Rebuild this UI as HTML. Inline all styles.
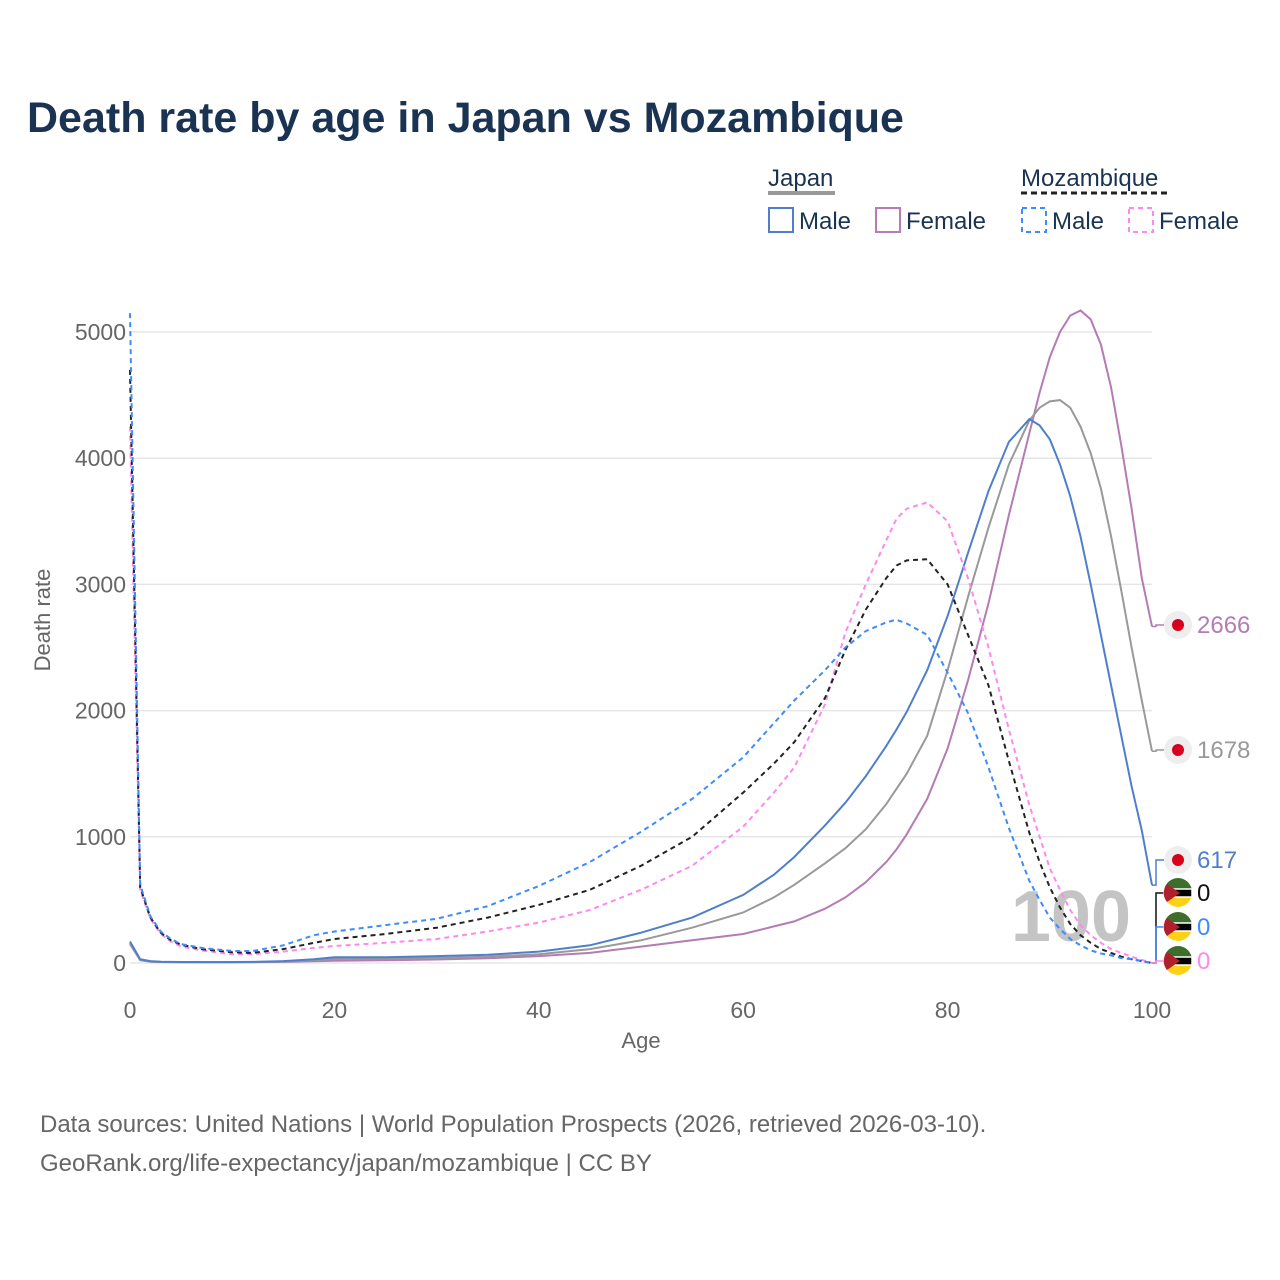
<!DOCTYPE html>
<html><head><meta charset="utf-8">
<style>
body{margin:0;background:#fff;font-family:"Liberation Sans",sans-serif;}
#wrap{position:relative;width:1280px;height:1280px;overflow:hidden;}
</style></head>
<body>
<div id="wrap">
<svg id="chart" width="1280" height="1280" xmlns="http://www.w3.org/2000/svg">
<text x="27" y="132" font-size="43" font-weight="bold" fill="#1b3352">Death rate by age in Japan vs Mozambique</text>
<g font-size="24" fill="#1b3352">
 <text x="768" y="186">Japan</text>
 <line x1="768" y1="193" x2="835" y2="193" stroke="#999" stroke-width="4"/>
 <text x="1021" y="186">Mozambique</text>
 <line x1="1021" y1="193" x2="1170" y2="193" stroke="#222" stroke-width="3" stroke-dasharray="6,4"/>
 <g><rect x="769" y="208" width="24" height="24" fill="none" stroke="#4f7fcc" stroke-width="2"/><text x="799" y="229">Male</text></g>
 <g><rect x="876" y="208" width="24" height="24" fill="none" stroke="#b57bb5" stroke-width="2"/><text x="906" y="229">Female</text></g>
 <g><rect x="1022" y="208" width="24" height="24" fill="none" stroke="#3d8bfd" stroke-width="2" stroke-dasharray="5,4"/><text x="1052" y="229">Male</text></g>
 <g><rect x="1129" y="208" width="24" height="24" fill="none" stroke="#ff88f0" stroke-width="2" stroke-dasharray="5,4"/><text x="1159" y="229">Female</text></g>
</g>
<text transform="translate(50,620) rotate(-90)" text-anchor="middle" font-size="22" fill="#666">Death rate</text>
<text x="641" y="1048" text-anchor="middle" font-size="22" fill="#666">Age</text>
<text x="1131" y="941" text-anchor="end" font-size="72" font-weight="bold" fill="#c4c4c4">100</text>
<g id="grid"></g><g id="xt"></g><g id="yt"></g><g id="lines"></g><g id="labels"></g>
<text x="40" y="1132" font-size="24" fill="#666">Data sources: United Nations | World Population Prospects (2026, retrieved 2026-03-10).</text>
<text x="40" y="1171" font-size="24" fill="#666">GeoRank.org/life-expectancy/japan/mozambique | CC BY</text>
</svg>
</div>
<script>
const ages =        [0,1,2,3,4,5,7,10,12,15,18,20,25,30,35,40,45,50,55,60,63,65,68,70,72,74,75,76,78,80,82,84,86,88,89,90,91,92,93,94,95,96,97,98,99,100];
const japanMale =   [170,30,15,10,9,8,8,8,9,15,30,45,45,55,65,90,140,240,360,540,700,840,1090,1270,1480,1720,1850,1990,2320,2750,3250,3740,4130,4310,4260,4150,3950,3700,3380,3000,2600,2200,1800,1400,1050,617];
const japanTotal =  [160,25,12,9,8,8,7,7,8,12,22,32,35,40,50,70,110,180,280,400,520,620,790,910,1060,1260,1380,1500,1800,2320,2900,3450,3950,4300,4400,4450,4460,4400,4250,4040,3760,3380,2950,2500,2080,1678];
const japanFemale = [150,22,10,8,7,6,6,6,7,9,14,18,22,28,38,55,80,130,180,230,290,330,430,520,640,800,900,1020,1300,1700,2240,2850,3550,4200,4520,4800,5000,5130,5170,5100,4900,4560,4100,3600,3050,2666];
const mozMale =     [5150,620,370,250,190,150,120,95,95,140,220,250,300,350,450,610,800,1040,1300,1630,1900,2080,2320,2500,2630,2700,2720,2690,2600,2300,1980,1550,1070,650,500,360,270,190,140,100,75,60,40,30,15,0];
const mozTotal =    [4700,600,360,240,180,145,110,85,80,110,160,190,230,280,360,460,580,770,1000,1350,1580,1750,2100,2480,2800,3050,3150,3190,3200,3000,2600,2200,1600,1030,800,600,440,310,220,160,110,80,50,30,15,0];
const mozFemale =   [4250,580,350,230,170,130,100,70,70,90,120,135,160,190,250,320,420,580,770,1080,1350,1550,2050,2620,3000,3350,3520,3600,3650,3500,3050,2500,1850,1250,1000,750,580,420,300,220,160,110,80,50,25,0];
const xTicks = [0,20,40,60,80,100];
const yTicks = [0,1000,2000,3000,4000,5000];
const endLabels = ["2666","1678","617","0","0","0"];

const NS="http://www.w3.org/2000/svg";
const X0=130,X1=1152,Y0=963,Y5=332;
const xs=a=>X0+(X1-X0)*a/100;
const ys=v=>Y0-(Y0-Y5)*v/5000;
function mk(tag,attrs,parent){const e=document.createElementNS(NS,tag);for(const k in attrs)e.setAttribute(k,attrs[k]);parent.appendChild(e);return e;}
const grid=document.getElementById('grid'),xt=document.getElementById('xt'),yt=document.getElementById('yt'),lines=document.getElementById('lines'),labels=document.getElementById('labels');
yTicks.forEach(t=>{
 const l=mk('line',{x1:X0,x2:X1,y1:ys(t),y2:ys(t),stroke:'#e6e6e6','stroke-width':1.5},grid);
 
 
 const tx=mk('text',{x:X0-4,y:ys(t)+8,'text-anchor':'end','font-size':23,fill:'#666'},yt);
 tx.textContent=t;
 
 
});
xTicks.forEach(t=>{
 const tx=mk('text',{x:xs(t),y:1018,'text-anchor':'middle','font-size':23,fill:'#666'},xt);
 tx.textContent=t;
 
 
});
const series=[
 {n:'japan-female',d:japanFemale,c:'#b57bb5',dash:''},
 {n:'japan-total',d:japanTotal,c:'#999999',dash:''},
 {n:'japan-male',d:japanMale,c:'#4f7fcc',dash:''},
 {n:'mozambique-female',d:mozFemale,c:'#ff88f0',dash:'5,4'},
 {n:'mozambique-total',d:mozTotal,c:'#222222',dash:'5,4'},
 {n:'mozambique-male',d:mozMale,c:'#3d8bfd',dash:'5,4'}
];
series.forEach(s=>{
 const pts=ages.map((a,i)=>xs(a).toFixed(1)+','+ys(s.d[i]).toFixed(1)).join(' ');
 const p=mk('polyline',{points:pts,fill:'none',stroke:s.c,'stroke-width':2,'stroke-dasharray':s.dash},lines);
 
 
});
const lab=[
 {y:625,c:'#b57bb5',jp:true,n:'japan-female'},
 {y:750,c:'#999999',jp:true,n:'japan-total'},
 {y:860,c:'#4f7fcc',jp:true,n:'japan-male'},
 {y:893,c:'#111111',jp:false,n:'mozambique-total'},
 {y:927,c:'#3d8bfd',jp:false,n:'mozambique-male'},
 {y:961,c:'#ff88f0',jp:false,n:'mozambique-female'}
];
const ends=[japanFemale,japanTotal,japanMale,mozTotal,mozMale,mozFemale];
lab.forEach((L,i)=>{
 const g=mk('g',{},labels);
 
 
 const ey=ys(ends[i][ends[i].length-1]);
 mk('polyline',{points:`${X1},${ey} ${X1+4},${ey} ${X1+4},${L.y} ${X1+12},${L.y}`,fill:'none',stroke:L.c,'stroke-width':1.5},g);
 if(L.jp){
  mk('circle',{cx:1178,cy:L.y,r:14,fill:'#eeeeee'},g);
  mk('circle',{cx:1178,cy:L.y,r:6,fill:'#d7001f'},g);
 } else {
  mk('circle',{cx:1178,cy:L.y,r:14,fill:'#fcd116'},g);
  mk('path',{d:`M1164,${L.y-1} A14,14 0 0 1 1192,${L.y-1} Z`,fill:'#3f6e2c'},g);
  mk('rect',{x:1164,y:L.y-4,width:28,height:8,fill:'#000',stroke:'#fff','stroke-width':1.5},g);
  mk('path',{d:`M1167,${L.y-9} L1180,${L.y} L1167,${L.y+9} A14,14 0 0 1 1167,${L.y-9} Z`,fill:'#b11f2c'},g);
 }
 const t=mk('text',{x:1197,y:L.y+8,'font-size':24,fill:L.c},g);
 t.textContent=endLabels[i];
});
</script>
</body></html>
